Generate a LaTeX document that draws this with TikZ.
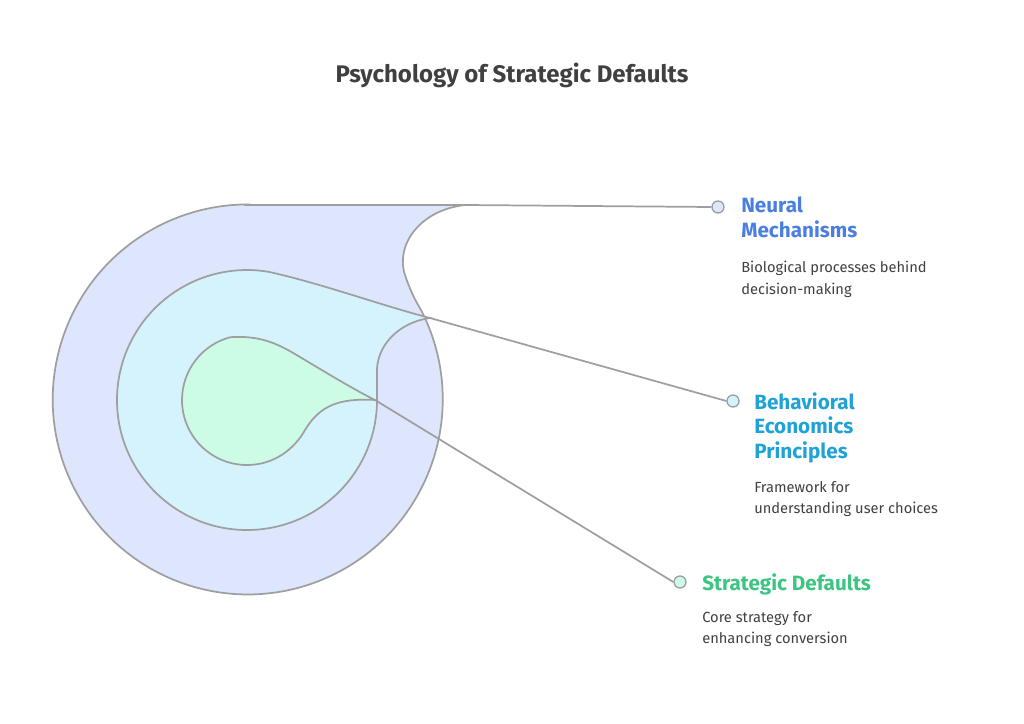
\documentclass[tikz,border=0pt]{standalone}
\usepackage{fontspec}
\setmainfont{Fira Sans}
\definecolor{fo}{RGB}{221,230,253}
\definecolor{fm}{RGB}{212,243,253}
\definecolor{fi}{RGB}{204,251,230}
\begin{document}
\begin{tikzpicture}[x=0.75pt,y=-0.75pt,
  shp/.style={draw=gray!75,line width=1.3pt},
  dot/.style={circle,draw=gray!75,line width=1pt,minimum size=9pt,inner sep=0},
  ttl/.style={anchor=north west,font=\bfseries\fontsize{15.5}{18.5}\selectfont,align=left,inner sep=0},
  dsc/.style={anchor=north west,font=\fontsize{11}{16}\selectfont,align=left,inner sep=0,text=black!75},
  conn/.style={draw=gray!75,line width=1.3pt}]
\useasboundingbox (0,0) rectangle (1024,724);
\node[font=\bfseries\fontsize{18}{21}\selectfont,text=black!75] (title) at (512,75) {Psychology of Strategic Defaults};
% outer
\path[shp,fill=fo]
 (247,205) -- (465,205) .. controls (420,210) and (395,245) .. (405,275)
 .. controls (410,290) and (415,300) .. (421,310)
 arc[start angle=-27.3, end angle=270, radius=195] -- cycle;
% middle
\path[shp,fill=fm]
 (377,400) arc[start angle=0,end angle=279.3,radius=130]
 .. controls (320,283) and (380,305) .. (430,318)
 .. controls (400,322) and (375,345) .. (377,375) -- cycle;
% inner
\path[shp,fill=fi]
 (247,465) arc[start angle=90,end angle=255,radius=65]
 .. controls (262,335) and (280,345) .. (300,357)
 .. controls (330,375) and (355,390) .. (375,400)
 .. controls (340,398) and (320,405) .. (305,430)
 .. controls (295,448) and (275,465) .. (247,465) -- cycle;
\coordinate (t1) at (465,205);
\coordinate (t2) at (430,318);
\coordinate (t3) at (375,400);
\node[dot,fill=fo] (d1) at (718,207) {};
\node[dot,fill=fm] (d2) at (733,401) {};
\node[dot,fill=fi] (d3) at (680,582) {};
\draw[conn] (t1) -- (d1.west);
\draw[conn] (t2) -- (d2.west);
\draw[conn] (t3) -- (d3.west);
\node[ttl,text={rgb,255:red,74;green,127;blue,224}] (n1) at (741,197) {Neural\\Mechanisms};
\node[dsc] (n1d) at (741,261) {Biological processes behind\\decision-making};
\node[ttl,text={rgb,255:red,31;green,163;blue,214}] (n2) at (754,392) {Behavioral\\Economics\\Principles};
\node[dsc] (n2d) at (754,481) {Framework for\\understanding user choices};
\node[ttl,text={rgb,255:red,60;green,196;blue,128}] (n3) at (702,573) {Strategic Defaults};
\node[dsc] (n3d) at (702,611) {Core strategy for\\enhancing conversion};
\end{tikzpicture}
\end{document}
